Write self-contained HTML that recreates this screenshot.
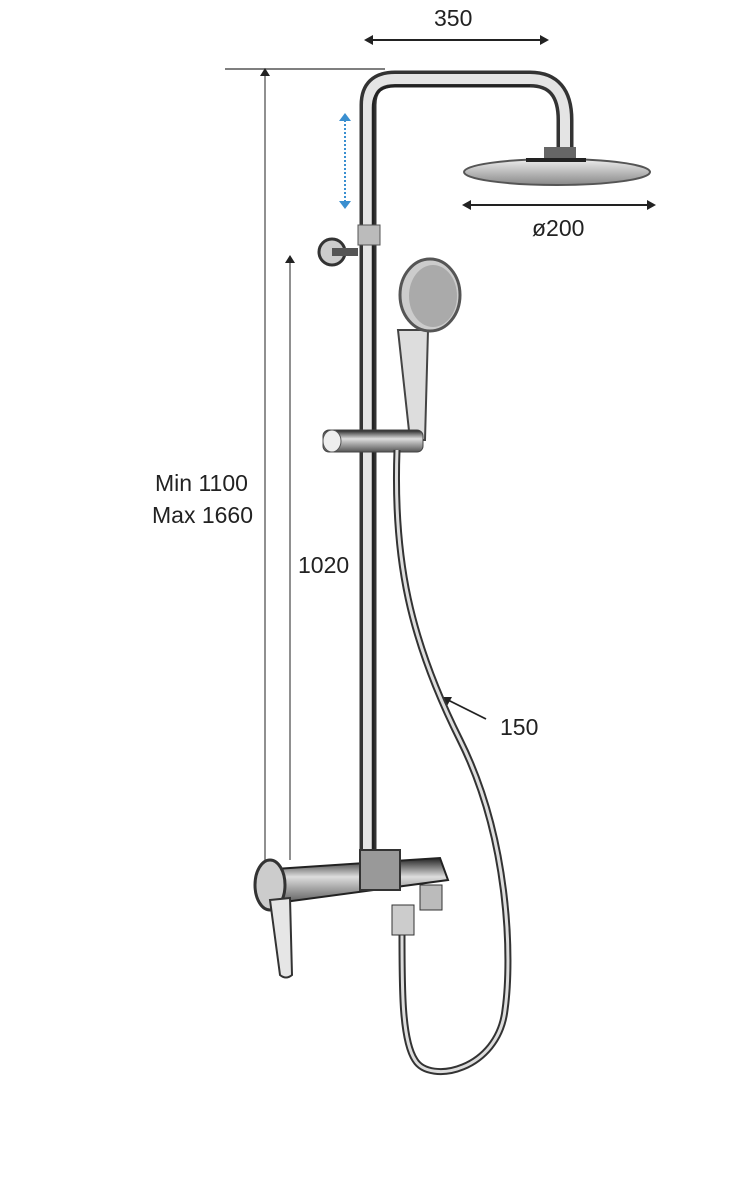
<!DOCTYPE html>
<html><head><meta charset="utf-8"><style>
html,body{margin:0;padding:0;background:#fff;width:751px;height:1186px;overflow:hidden}
svg{display:block}
text{font-family:"Liberation Sans",sans-serif;fill:#222;font-size:23px}
</style></head><body>
<svg width="751" height="1186" viewBox="0 0 751 1186" xmlns="http://www.w3.org/2000/svg">
<defs>
<linearGradient id="hpipe" x1="0" y1="0" x2="0" y2="1">
<stop offset="0" stop-color="#222"/><stop offset=".4" stop-color="#ddd"/><stop offset="1" stop-color="#555"/></linearGradient>
<linearGradient id="head" x1="0" y1="0" x2="0" y2="1">
<stop offset="0" stop-color="#eee"/><stop offset="1" stop-color="#888"/></linearGradient>
</defs>
<line x1="225" y1="69" x2="385" y2="69" stroke="#555" stroke-width="1.5"/>
<line x1="265" y1="72" x2="265" y2="860" stroke="#555" stroke-width="1.3"/>
<polygon points="265,68 260,76 270,76" fill="#222"/>
<line x1="290" y1="260" x2="290" y2="860" stroke="#555" stroke-width="1.3"/>
<polygon points="290,255 285,263 295,263" fill="#222"/>
<line x1="370" y1="40" x2="545" y2="40" stroke="#222" stroke-width="2"/>
<polygon points="364,40 373,35 373,45" fill="#222"/><polygon points="549,40 540,35 540,45" fill="#222"/>
<text x="434" y="26">350</text>
<line x1="468" y1="205" x2="650" y2="205" stroke="#222" stroke-width="2"/>
<polygon points="462,205 471,200 471,210" fill="#222"/><polygon points="656,205 647,200 647,210" fill="#222"/>
<text x="532" y="236">ø200</text>
<text x="155" y="491">Min 1100</text>
<text x="152" y="523">Max 1660</text>
<text x="298" y="573">1020</text>
<text x="500" y="735">150</text>
<line x1="486" y1="719" x2="448" y2="700" stroke="#222" stroke-width="1.8"/>
<polygon points="442,697 452,697 447,706" fill="#222"/>
<line x1="345" y1="120" x2="345" y2="203" stroke="#3a8fd0" stroke-width="2" stroke-dasharray="2,2"/>
<polygon points="345,113 339,121 351,121" fill="#3a8fd0"/><polygon points="345,209 339,201 351,201" fill="#3a8fd0"/>
<path d="M368,860 L368,105 Q368,79 395,79 L530,79 Q565,79 565,120 L565,150" fill="none" stroke="#333" stroke-width="17"/>
<path d="M368,860 L368,105 Q368,79 395,79 L530,79 Q565,79 565,120 L565,150" fill="none" stroke="#e4e4e4" stroke-width="10"/>
<path d="M373,860 L373,108 Q373,86 395,86 L530,86" fill="none" stroke="#222" stroke-width="2.5"/>
<rect x="358" y="225" width="22" height="20" fill="#bbb" stroke="#555"/>
<rect x="544" y="147" width="32" height="12" fill="#666"/>
<ellipse cx="557" cy="172" rx="93" ry="13" fill="url(#head)" stroke="#555" stroke-width="2"/>
<rect x="526" y="158" width="60" height="4" fill="#222"/>
<circle cx="332" cy="252" r="13" fill="#ccc" stroke="#333" stroke-width="3"/>
<rect x="332" y="248" width="26" height="8" fill="#555"/>
<path d="M398,330 L410,440 L425,440 L428,330 Z" fill="#ddd" stroke="#444" stroke-width="2"/>
<ellipse cx="430" cy="295" rx="30" ry="36" fill="#ccc" stroke="#555" stroke-width="3"/>
<ellipse cx="433" cy="296" rx="24" ry="31" fill="#aaa"/>
<rect x="323" y="430" width="100" height="22" rx="6" fill="url(#hpipe)" stroke="#444"/>
<ellipse cx="332" cy="441" rx="9" ry="11" fill="#eee" stroke="#555"/>
<path d="M397,450 C393,560 410,640 460,740 C510,840 512,960 505,1010 C498,1070 430,1085 415,1060 C402,1040 402,990 402,935" fill="none" stroke="#333" stroke-width="7"/>
<path d="M397,450 C393,560 410,640 460,740 C510,840 512,960 505,1010 C498,1070 430,1085 415,1060 C402,1040 402,990 402,935" fill="none" stroke="#ddd" stroke-width="3"/>
<path d="M260,870 L440,858 L448,880 L262,905 Z" fill="url(#hpipe)" stroke="#222" stroke-width="2"/>
<ellipse cx="270" cy="885" rx="15" ry="25" fill="#ccc" stroke="#333" stroke-width="3"/>
<path d="M270,900 L290,898 L292,975 Q286,980 280,975 Z" fill="#e6e6e6" stroke="#333" stroke-width="2"/>
<rect x="360" y="850" width="40" height="40" fill="#999" stroke="#333" stroke-width="2"/>
<rect x="420" y="885" width="22" height="25" fill="#bbb" stroke="#333"/>
<rect x="392" y="905" width="22" height="30" fill="#ccc" stroke="#333"/>
</svg>
</body></html>
